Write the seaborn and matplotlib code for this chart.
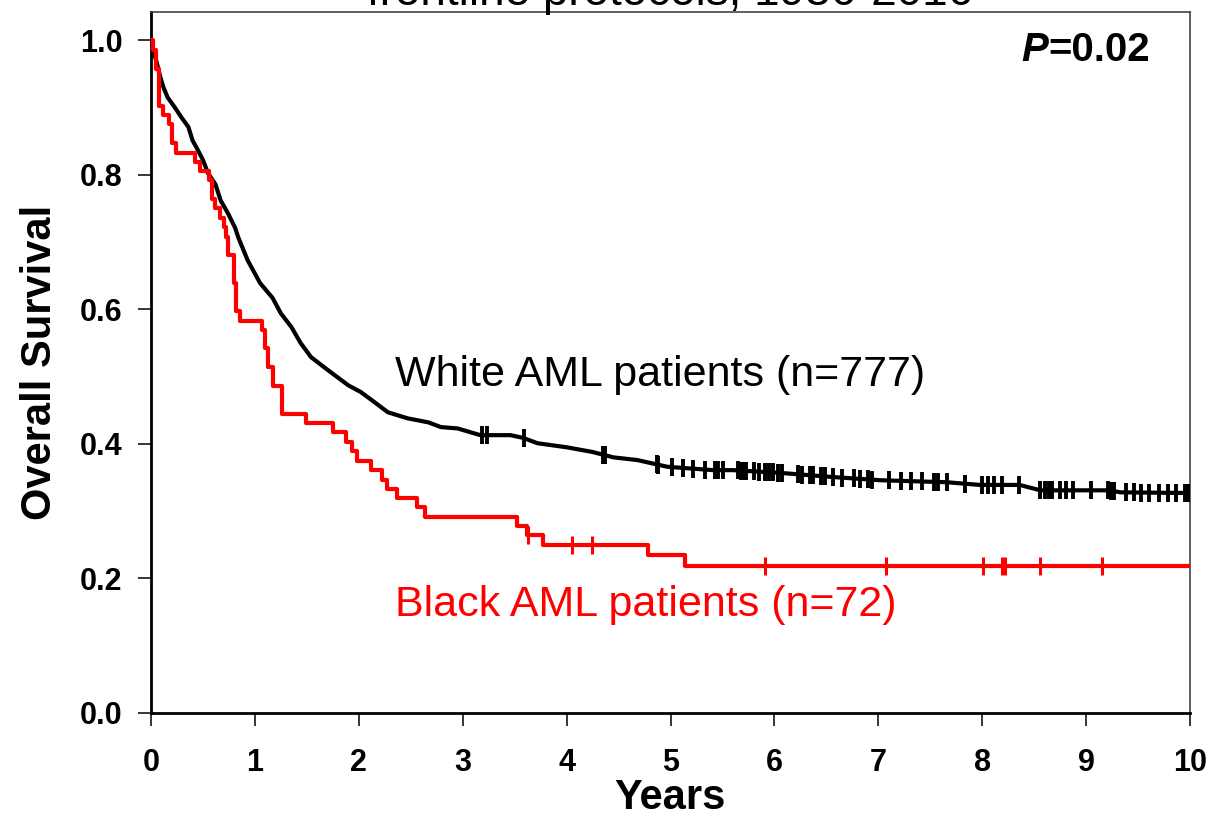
import numpy as np
import pandas as pd
import matplotlib
matplotlib.use("Agg")
import matplotlib.pyplot as plt
import seaborn as sns

# ---------------- data ----------------
# White AML patients (n=777) - Kaplan-Meier estimate (dense, drawn as a line)
white_t = [0, 0.02, 0.05, 0.09, 0.12, 0.16, 0.23, 0.29, 0.36, 0.40, 0.45, 0.50,
           0.55, 0.62, 0.67, 0.74, 0.81, 0.84, 0.93, 1.05, 1.17, 1.25, 1.35, 1.44,
           1.54, 1.70, 1.90, 2.02, 2.16, 2.28, 2.47, 2.67, 2.79, 2.95, 3.17, 3.46,
           3.58, 3.72, 4.00, 4.25, 4.45, 4.68, 4.97, 5.41, 5.60, 6.05, 6.54, 7.02,
           7.66, 7.98, 8.36, 8.56, 8.94, 9.23, 9.33, 10.0]
white_s = [1.0, 0.985, 0.970, 0.945, 0.930, 0.915, 0.900, 0.886, 0.871, 0.851,
           0.837, 0.822, 0.802, 0.786, 0.762, 0.743, 0.721, 0.707, 0.673, 0.639,
           0.617, 0.594, 0.574, 0.550, 0.529, 0.510, 0.487, 0.477, 0.461, 0.447,
           0.438, 0.432, 0.425, 0.423, 0.413, 0.413, 0.409, 0.401, 0.395, 0.388,
           0.380, 0.376, 0.366, 0.361, 0.361, 0.357, 0.351, 0.346, 0.343, 0.339,
           0.339, 0.331, 0.331, 0.331, 0.328, 0.327]
white_censor = [3.19, 3.23, 3.59, 4.35, 4.37, 4.87, 4.88, 5.01, 5.12, 5.22, 5.33,
                5.43, 5.46, 5.51, 5.65, 5.68, 5.70, 5.73, 5.80, 5.85, 5.91, 5.95,
                5.99, 6.03, 6.07, 6.23, 6.27, 6.34, 6.37, 6.45, 6.49, 6.56, 6.65,
                6.77, 6.82, 6.90, 6.94, 7.10, 7.22, 7.31, 7.42, 7.54, 7.57, 7.66,
                7.83, 8.00, 8.06, 8.11, 8.19, 8.35, 8.56, 8.60, 8.64, 8.67, 8.75,
                8.81, 8.87, 9.05, 9.21, 9.24, 9.27, 9.38, 9.46, 9.53, 9.61, 9.70,
                9.79, 9.87, 9.95, 9.98]

# Black AML patients (n=72) - Kaplan-Meier step function
black_t = [0, 0.02, 0.05, 0.08, 0.12, 0.17, 0.20, 0.24, 0.42, 0.47, 0.56, 0.59,
           0.62, 0.66, 0.70, 0.72, 0.74, 0.80, 0.82, 0.86, 1.07, 1.10, 1.13, 1.17,
           1.26, 1.49, 1.75, 1.88, 1.93, 1.98, 2.12, 2.22, 2.27, 2.37, 2.56, 2.64,
           3.52, 3.62, 3.77, 4.78, 5.14, 10.0]
black_s = [1.0, 0.986, 0.958, 0.903, 0.889, 0.875, 0.847, 0.833, 0.819, 0.806,
           0.792, 0.764, 0.750, 0.736, 0.722, 0.708, 0.681, 0.639, 0.597, 0.583,
           0.569, 0.542, 0.514, 0.486, 0.444, 0.431, 0.417, 0.403, 0.389, 0.375,
           0.361, 0.347, 0.333, 0.319, 0.306, 0.292, 0.278, 0.264, 0.250, 0.235,
           0.218, 0.218]
black_censor = [3.63, 4.05, 4.24, 5.91, 7.07, 8.01, 8.19, 8.22, 8.56, 9.15]

x_ticks = list(range(0, 11))
y_ticks = [0.0, 0.2, 0.4, 0.6, 0.8, 1.0]
y_tick_labels = ["0.0", "0.2", "0.4", "0.6", "0.8", "1.0"]

title_text = "frontline protocols, 1986-2016"
white_label = "White AML patients (n=777)"
black_label = "Black AML patients (n=72)"
p_label = "=0.02"

# ---------------- tables ----------------
white_df = pd.DataFrame({"t": white_t, "s": white_s})
black_df = pd.DataFrame({"t": black_t, "s": black_s})
white_c_df = pd.DataFrame({"t": white_censor,
                           "s": np.interp(white_censor, white_t, white_s)})
idx = np.searchsorted(black_t, black_censor, side="right") - 1
black_c_df = pd.DataFrame({"t": black_censor, "s": np.array(black_s)[idx]})

# ---------------- style ----------------
sns.set_style("ticks")
plt.rcParams["font.family"] = ["Liberation Sans", "DejaVu Sans"]
plt.rcParams["text.color"] = "black"
plt.rcParams["axes.labelcolor"] = "black"
plt.rcParams["xtick.color"] = "black"
plt.rcParams["ytick.color"] = "black"

fig = plt.figure(figsize=(12.09, 8.17), dpi=100)
ax = fig.add_axes([151 / 1209, 1 - 713 / 817, (1190 - 151) / 1209, (713 - 12) / 817])

sns.lineplot(data=white_df, x="t", y="s", color="black", lw=3.0,
             estimator=None, ax=ax)
sns.scatterplot(data=white_c_df, x="t", y="s", marker="|", s=150,
                linewidth=2.8, color="black", ax=ax, zorder=3)
sns.lineplot(data=black_df, x="t", y="s", color="#ff0000", lw=3.0,
             drawstyle="steps-post", estimator=None, ax=ax, zorder=4)
sns.scatterplot(data=black_c_df, x="t", y="s", marker="|", s=150,
                linewidth=2.2, color="#ff0000", ax=ax, zorder=5)

ax.set_xlim(0, 10)
ax.set_ylim(0, 1.042)
ax.set_xticks(x_ticks)
ax.set_yticks(y_ticks)
ax.set_yticklabels(y_tick_labels)
ax.tick_params(axis="both", direction="out", length=9.5, width=1.1,
               labelsize=22, color="black", labelcolor="black")
ax.tick_params(axis="y", pad=11)
ax.tick_params(axis="x", pad=16)
for lab in ax.get_xticklabels() + ax.get_yticklabels():
    lab.set_fontweight("bold")

for side in ["left", "bottom"]:
    ax.spines[side].set_linewidth(2.0)
    ax.spines[side].set_color("black")
for side in ["top", "right"]:
    ax.spines[side].set_visible(True)
    ax.spines[side].set_linewidth(1.1)
    ax.spines[side].set_color("#333333")

ax.set_xlabel("Years", fontsize=30, fontweight="bold", labelpad=0,
              color="black")
ax.set_ylabel("Overall Survival", fontsize=30, fontweight="bold", labelpad=14,
              color="black")

ax.text(2.35, 0.502, white_label, fontsize=31, color="black",
        ha="left", va="center")
ax.text(2.35, 0.160, black_label, fontsize=31, color="#ff0000",
        ha="left", va="center")

t1 = ax.text(1150 / 1209, 1 - 50 / 817, p_label, transform=fig.transFigure,
             fontsize=29, fontweight="bold", ha="right", va="center",
             color="black")
ax.annotate("P", xy=(0, 0.5), xycoords=t1, fontsize=29, fontweight="bold",
            fontstyle="italic", ha="right", va="center", color="black")

fig.text((151 + 1190) / 2 / 1209, 1 - 5 / 817, title_text, fontsize=33,
         ha="center", va="baseline", color="black")

fig.savefig("out.png", dpi=100)
